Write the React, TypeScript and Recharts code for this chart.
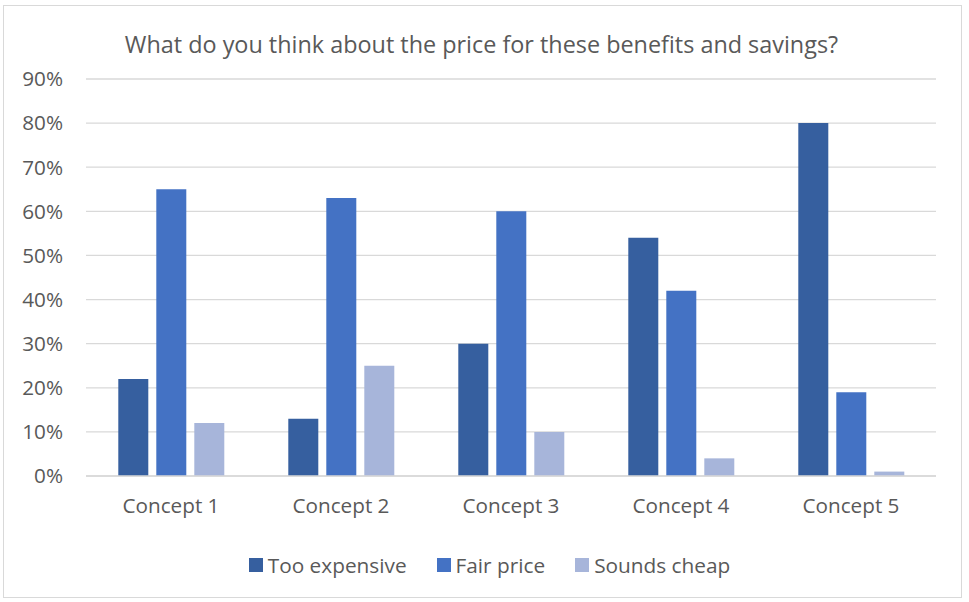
import React from 'react';
import { BarChart, Bar, XAxis, YAxis, CartesianGrid } from 'recharts';

const categories = ['Concept 1', 'Concept 2', 'Concept 3', 'Concept 4', 'Concept 5'];
const tooExpensive = [22, 13, 30, 54, 80];
const fairPrice = [65, 63, 60, 42, 19];
const soundsCheap = [12, 25, 10, 4, 1];
const yTicks = [0, 10, 20, 30, 40, 50, 60, 70, 80, 90];

const series = [
  { key: 'tooExpensive', name: 'Too expensive', color: '#365F9F' },
  { key: 'fairPrice', name: 'Fair price', color: '#4472C4' },
  { key: 'soundsCheap', name: 'Sounds cheap', color: '#A7B5DA' },
];

const FONT = '"Open Sans", sans-serif';
const TEXT = '#595959';

const data = categories.map((name, i) => ({
  name,
  tooExpensive: tooExpensive[i],
  fairPrice: fairPrice[i],
  soundsCheap: soundsCheap[i],
}));

export default function App() {
  return (
    <div style={{ position: 'fixed', left: 0, top: 0, width: 969, height: 602, background: '#fff', fontFamily: FONT }}>
      <div
        style={{
          position: 'absolute',
          left: 3,
          top: 5,
          width: 959,
          height: 593,
          border: '1px solid #D9D9D9',
          boxSizing: 'border-box',
        }}
      />
      <div
        style={{
          position: 'absolute',
          left: 0,
          width: 963,
          top: 28,
          textAlign: 'center',
          fontSize: 23.4,
          lineHeight: '32px',
          color: TEXT,
        }}
      >
        What do you think about the price for these benefits and savings?
      </div>
      <div style={{ position: 'absolute', left: 0, top: 0 }}>
        <BarChart
          width={969}
          height={602}
          data={data}
          margin={{ top: 79, right: 33, bottom: 96, left: 0 }}
          barCategoryGap="19%"
          barGap={8}
        >
          <CartesianGrid vertical={false} stroke="#D9D9D9" strokeWidth={1.3} />
          <XAxis
            dataKey="name"
            height={30}
            axisLine={{ stroke: '#D9D9D9', strokeWidth: 1.3 }}
            tickLine={false}
            tickSize={0}
            tickMargin={22}
            tick={{ fill: TEXT, fontSize: 20.7, fontFamily: FONT }}
          />
          <YAxis
            width={86}
            domain={[0, 90]}
            ticks={yTicks}
            interval={0}
            tickFormatter={(v: number) => `${v}%`}
            axisLine={false}
            tickLine={false}
            tickSize={0}
            tickMargin={23}
            tick={{ fill: TEXT, fontSize: 20.7, fontFamily: FONT }}
          />
          {series.map((s) => (
            <Bar key={s.key} dataKey={s.key} name={s.name} fill={s.color} isAnimationActive={false} />
          ))}
        </BarChart>
      </div>
      <div
        style={{
          position: 'absolute',
          left: 0,
          width: 969,
          top: 550,
          display: 'flex',
          justifyContent: 'center',
          fontSize: 20.8,
          lineHeight: '30px',
          color: TEXT,
          paddingLeft: 10,
          boxSizing: 'border-box',
        }}
      >
        {series.map((s) => (
          <div key={s.key} style={{ display: 'flex', alignItems: 'center', margin: '0 15px' }}>
            <span style={{ width: 14, height: 14, background: s.color, display: 'inline-block', marginRight: 5 }} />
            <span>{s.name}</span>
          </div>
        ))}
      </div>
    </div>
  );
}
